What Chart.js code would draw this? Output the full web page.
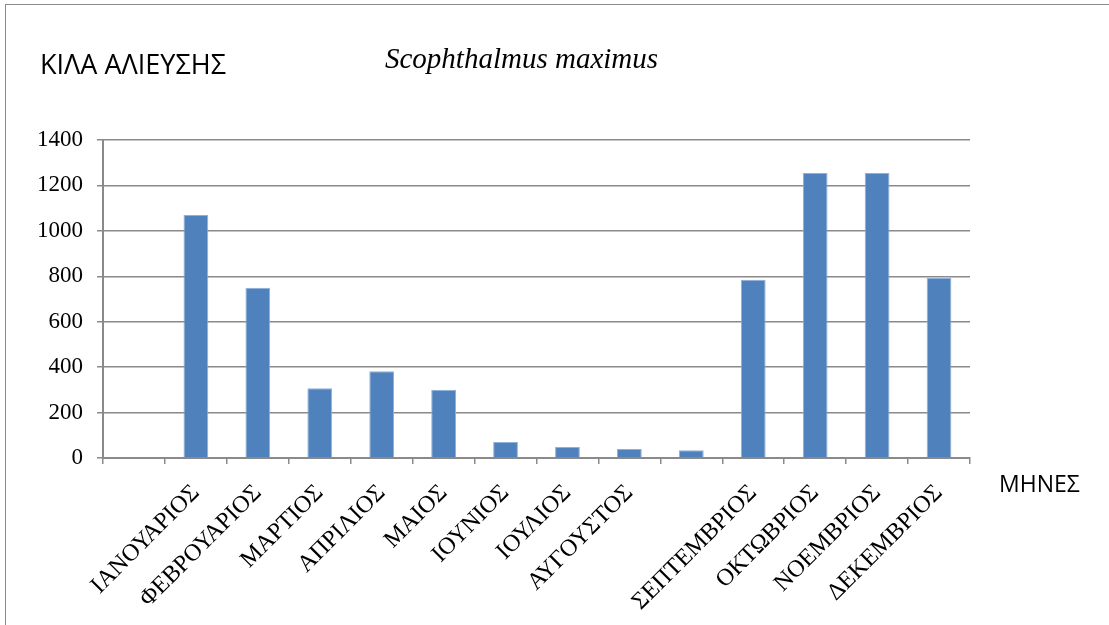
<!DOCTYPE html>
<html>
<head>
<meta charset="utf-8">
<script src="https://cdn.jsdelivr.net/npm/chart.js@4/dist/chart.umd.min.js"></script>
<style>
  html, body { margin: 0; padding: 0; background: #fff; }
  #wrap { position: relative; width: 1109px; height: 625px; overflow: hidden; }
  #frame { position: absolute; left: 5px; top: 4px; width: 1120px; height: 640px; border: 1.5px solid #8a8a8a; }
  canvas { position: absolute; left: 0; top: 0; }
  .lbl { position: absolute; white-space: nowrap; color: #000; line-height: 1; }
  #ytitle { left: 40px; top: 50px; font: 27px "Open Sans", "Liberation Sans", sans-serif; line-height: 1; }
  #main { left: 385px; top: 44px; font: italic 29px "Liberation Serif", serif; line-height: 1; }
  #xtitle { left: 999px; top: 472px; font: 23px "Open Sans", "Liberation Sans", sans-serif; line-height: 1; }
</style>
</head>
<body>
<div id="wrap">
  <div id="frame"></div>
  <canvas id="c" width="1109" height="625"></canvas>
  <div class="lbl" id="ytitle">ΚΙΛΑ ΑΛΙΕΥΣΗΣ</div>
  <div class="lbl" id="main">Scophthalmus maximus</div>
  <div class="lbl" id="xtitle">ΜΗΝΕΣ</div>
</div>
<script>
// μήνες (η πρώτη και η δέκατη θέση είναι κενές όπως στο αρχικό)
const months = ['', 'ΙΑΝΟΥΑΡΙΟΣ', 'ΦΕΒΡΟΥΑΡΙΟΣ', 'ΜΑΡΤΙΟΣ', 'ΑΠΡΙΛΙΟΣ', 'ΜΑΙΟΣ', 'ΙΟΥΝΙΟΣ',
  'ΙΟΥΛΙΟΣ', 'ΑΥΓΟΥΣΤΟΣ', '', 'ΣΕΠΤΕΜΒΡΙΟΣ', 'ΟΚΤΩΒΡΙΟΣ', 'ΝΟΕΜΒΡΙΟΣ', 'ΔΕΚΕΜΒΡΙΟΣ'];
// κιλά αλιείας
const kilos = [null, 1070, 750, 307, 382, 300, 70, 48, 40, 34, 785, 1255, 1255, 793];
const yTicks = [0, 200, 400, 600, 800, 1000, 1200, 1400];

const gridColor = '#8a8a8a';
const serif = "'Liberation Serif', 'Times New Roman', serif";

new Chart(document.getElementById('c').getContext('2d'), {
  type: 'bar',
  data: {
    labels: months,
    datasets: [{
      data: kilos,
      backgroundColor: '#4f81bd',
      borderColor: '#8fb0da',
      borderWidth: 1,
      barPercentage: 0.4,
      categoryPercentage: 1.0
    }]
  },
  options: {
    responsive: false,
    animation: false,
    layout: { padding: { left: 20, top: 140, right: 139, bottom: 0 } },
    plugins: { legend: { display: false }, title: { display: false }, tooltip: { enabled: false } },
    scales: {
      x: {
        offset: true,
        grid: { offset: true, drawOnChartArea: false, drawTicks: true, tickLength: 6, color: gridColor, lineWidth: 1.5 },
        border: { color: gridColor, width: 2 },
        ticks: { color: '#000', font: { family: serif, size: 24 }, minRotation: 45, maxRotation: 45, autoSkip: false, padding: 15 },
        afterFit: s => { s.height = 167; }
      },
      y: {
        min: 0,
        max: 1400,
        afterBuildTicks: s => { s.ticks = yTicks.map(v => ({ value: v })); },
        grid: { color: gridColor, lineWidth: 1.5, tickLength: 6 },
        border: { color: gridColor, width: 2 },
        ticks: { color: '#000', font: { family: serif, size: 23 }, padding: 14, callback: v => String(v) },
        afterFit: s => { s.width = 83; }
      }
    }
  }
});
</script>
</body>
</html>
